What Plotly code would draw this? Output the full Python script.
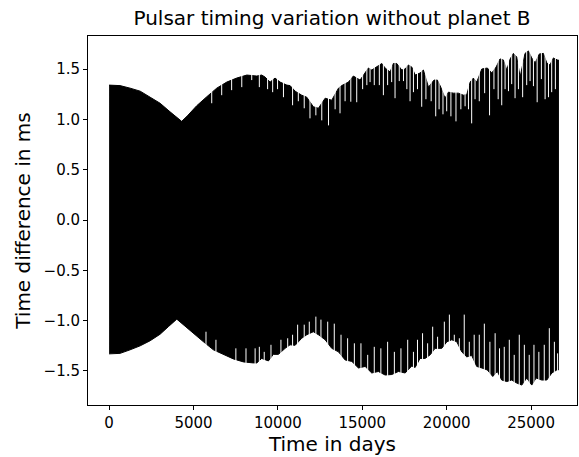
import plotly.graph_objects as go

# Upper edge of the trace (tip heights), time in days / ms
upper_t = [0, 650, 1240, 1840, 2430, 3020, 3610, 4110, 4300, 4640, 5190, 5790, 6380, 6970,
           7560, 8160, 8750, 9040, 9240, 9540, 9830, 10130, 10530, 10720, 11020, 11410, 11710,
           12100, 12400, 12800, 13190, 13590, 13780, 14180, 14470, 14870, 15170, 15360, 15560,
           15860, 16160, 16350, 16650, 16840, 17040, 17340, 17540, 17730, 17930, 18130, 18420,
           18620, 18920, 19250, 19450, 19650, 19900, 20100, 20400, 20690, 20990, 21190, 21390,
           21580, 21780, 22080, 22410, 22670, 22930, 23160, 23360, 23560, 23760, 23950, 24150,
           24350, 24640, 24840, 25040, 25240, 25490, 25730, 25930, 26120, 26320, 26560, 26620]
upper_v = [1.34, 1.335, 1.31, 1.28, 1.22, 1.16, 1.075, 1.00, 0.98, 1.035, 1.135, 1.225, 1.31, 1.37,
           1.41, 1.44, 1.43, 1.44, 1.42, 1.37, 1.41, 1.37, 1.34, 1.335, 1.28, 1.24, 1.22,
           1.125, 1.11, 1.21, 1.19, 1.31, 1.335, 1.37, 1.43, 1.39, 1.47, 1.51, 1.49,
           1.52, 1.555, 1.51, 1.47, 1.555, 1.555, 1.49, 1.50, 1.54, 1.52, 1.44, 1.46,
           1.49, 1.32, 1.39, 1.39, 1.32, 1.21, 1.27, 1.26, 1.26, 1.24, 1.245, 1.37,
           1.41, 1.37, 1.50, 1.51, 1.46, 1.52, 1.60, 1.59, 1.49, 1.60, 1.655, 1.62,
           1.42, 1.655, 1.68, 1.61, 1.56, 1.65, 1.655, 1.56, 1.54, 1.61, 1.59, 1.59]

# Lower edge of the trace (tip depths)
lower_t = [0, 650, 1240, 1840, 2430, 3020, 3510, 4010, 4400, 4990, 5590, 6180, 6770, 7360,
           7960, 8550, 8750, 9040, 9440, 9730, 10030, 10430, 10720, 11020, 11410, 11710, 12100,
           12400, 12800, 13190, 13590, 13980, 14380, 14770, 15170, 15560, 15950, 16350, 16750,
           17140, 17540, 17930, 18130, 18420, 18720, 19020, 19310, 19710, 20010, 20300, 20600,
           20890, 21190, 21480, 21780, 22080, 22410, 22730, 23000, 23260, 23560, 23850, 24150,
           24450, 24740, 25040, 25300, 25630, 25930, 26230, 26520, 26620]
lower_v = [-1.33, -1.325, -1.29, -1.25, -1.20, -1.135, -1.06, -0.985, -1.035, -1.125, -1.21, -1.29,
           -1.335, -1.38, -1.41, -1.42, -1.42, -1.375, -1.40, -1.335, -1.335, -1.275, -1.24,
           -1.245, -1.175, -1.14, -1.11, -1.14, -1.19, -1.275, -1.31, -1.39, -1.405, -1.47,
           -1.455, -1.52, -1.505, -1.54, -1.535, -1.505, -1.52, -1.45, -1.465, -1.375, -1.375,
           -1.34, -1.275, -1.275, -1.21, -1.19, -1.21, -1.31, -1.36, -1.345, -1.455, -1.47,
           -1.49, -1.555, -1.505, -1.59, -1.605, -1.59, -1.62, -1.64, -1.57, -1.64, -1.57,
           -1.59, -1.59, -1.52, -1.49, -1.49]

# White gaps between oscillation peaks (upper side): time, depth reached
unotch_t = [6080, 6670, 7260, 7860, 8450, 8900, 9390, 9690, 9980, 10330, 10870, 11210, 11560,
            11900, 12250, 12600, 13000, 13390, 13680, 13980, 14320, 14670, 15020, 15270, 15460,
            15710, 16010, 16250, 16500, 16740, 16940, 17190, 17440, 17640, 17830, 18030, 18270,
            18520, 18770, 19080, 19350, 19550, 19780, 20000, 20250, 20550, 20840, 21090, 21290,
            21480, 21680, 21930, 22250, 22540, 22800, 23050, 23260, 23460, 23660, 23850, 24050,
            24250, 24500, 24740, 24940, 25140, 25360, 25610, 25830, 26030, 26220, 26440]
unotch_v = [1.16, 1.24, 1.29, 1.32, 1.39, 1.32, 1.30, 1.27, 1.30, 1.22, 1.14, 1.18, 1.11,
            1.01, 1.04, 0.99, 0.94, 1.10, 1.06, 1.18, 1.175, 1.17, 1.30, 1.34, 1.37,
            1.34, 1.34, 1.24, 1.34, 1.37, 1.21, 1.38, 1.38, 1.30, 1.18, 1.27, 1.30,
            1.125, 1.20, 1.18, 1.03, 1.10, 1.05, 1.08, 1.03, 0.98, 1.10, 1.13, 1.10,
            0.96, 1.20, 1.18, 1.26, 1.04, 1.30, 1.20, 1.14, 1.30, 1.28, 1.35, 1.21,
            1.30, 1.22, 1.34, 1.38, 1.33, 1.17, 1.40, 1.20, 1.22, 1.27, 1.30]

# White gaps (lower side)
lnotch_t = [5740, 6330, 7510, 8110, 8650, 8900, 9190, 9590, 10180, 10580, 10870, 11170, 11560,
            11860, 12250, 12550, 12950, 13340, 13740, 14130, 14530, 14920, 15320, 15710, 16100,
            16500, 16900, 17290, 17690, 18030, 18270, 18570, 18870, 19170, 19460, 19860, 20160,
            20450, 20750, 21040, 21340, 21630, 21930, 22230, 22560, 22870, 23130, 23410, 23710,
            24000, 24300, 24600, 24890, 25170, 25460, 25780, 26080, 26380, 26570]
lnotch_v = [-1.11, -1.19, -1.275, -1.275, -1.275, -1.26, -1.31, -1.24, -1.19, -1.175, -1.14, -1.04,
            -1.04, -1.01, -0.96, -0.99, -1.01, -1.03, -1.14, -1.175, -1.225, -1.225, -1.34, -1.26,
            -1.275, -1.21, -1.31, -1.275, -1.19, -1.31, -1.19, -1.125, -1.225, -1.06, -1.16, -1.01,
            -0.94, -1.14, -1.175, -0.94, -1.21, -1.14, -1.14, -1.03, -1.21, -1.125, -1.275, -1.26,
            -1.19, -1.34, -1.14, -1.24, -1.34, -1.24, -1.31, -1.24, -1.075, -1.21, -1.325]

x_ticks = [0, 5000, 10000, 15000, 20000, 25000]
y_ticks = [-1.5, -1.0, -0.5, 0.0, 0.5, 1.0, 1.5]

Y_TOP, Y_BOT = 1.81, -1.82

fig = go.Figure()

# Solid body of the oscillating signal
fig.add_trace(go.Scatter(
    x=upper_t + lower_t[::-1],
    y=upper_v + lower_v[::-1],
    fill="toself", fillcolor="black", mode="lines",
    line=dict(color="black", width=1), hoverinfo="skip", showlegend=False))

# white gaps between individual peaks
gx, gy = [], []
for t, v in zip(unotch_t, unotch_v):
    gx += [t, t, None]
    gy += [v, Y_TOP, None]
for t, v in zip(lnotch_t, lnotch_v):
    gx += [t, t, None]
    gy += [v, Y_BOT, None]
fig.add_trace(go.Scatter(x=gx, y=gy, mode="lines",
                         line=dict(color="white", width=1),
                         hoverinfo="skip", showlegend=False))

font_family = "DejaVu Sans, sans-serif"
fig.update_layout(
    width=579, height=457,
    margin=dict(l=88, r=2, t=36, b=52),
    paper_bgcolor="white", plot_bgcolor="white",
    font=dict(family=font_family, color="black", size=15),
    title=dict(text="Pulsar timing variation without planet B",
               x=0.5734, xanchor="center",
               y=1 - 18 / 457, yanchor="middle",
               font=dict(size=20, family=font_family, color="black")),
    xaxis=dict(range=[-1250, 27720], tickvals=x_ticks, tickformat="d",
               showgrid=False, zeroline=False,
               showline=True, linecolor="black", linewidth=1, mirror=True,
               ticks="outside", ticklen=4, tickwidth=1, tickcolor="black",
               tickfont=dict(size=15),
               title=dict(text="Time in days", font=dict(size=20), standoff=5)),
    yaxis=dict(range=[-1.838, 1.828], tickvals=y_ticks, tickformat=".1f",
               showgrid=False, zeroline=False,
               showline=True, linecolor="black", linewidth=1, mirror=True,
               ticks="outside", ticklen=4, tickwidth=1, tickcolor="black",
               tickfont=dict(size=15),
               title=dict(text="Time difference in ms", font=dict(size=20), standoff=7)),
)

fig.write_html("out.html")
